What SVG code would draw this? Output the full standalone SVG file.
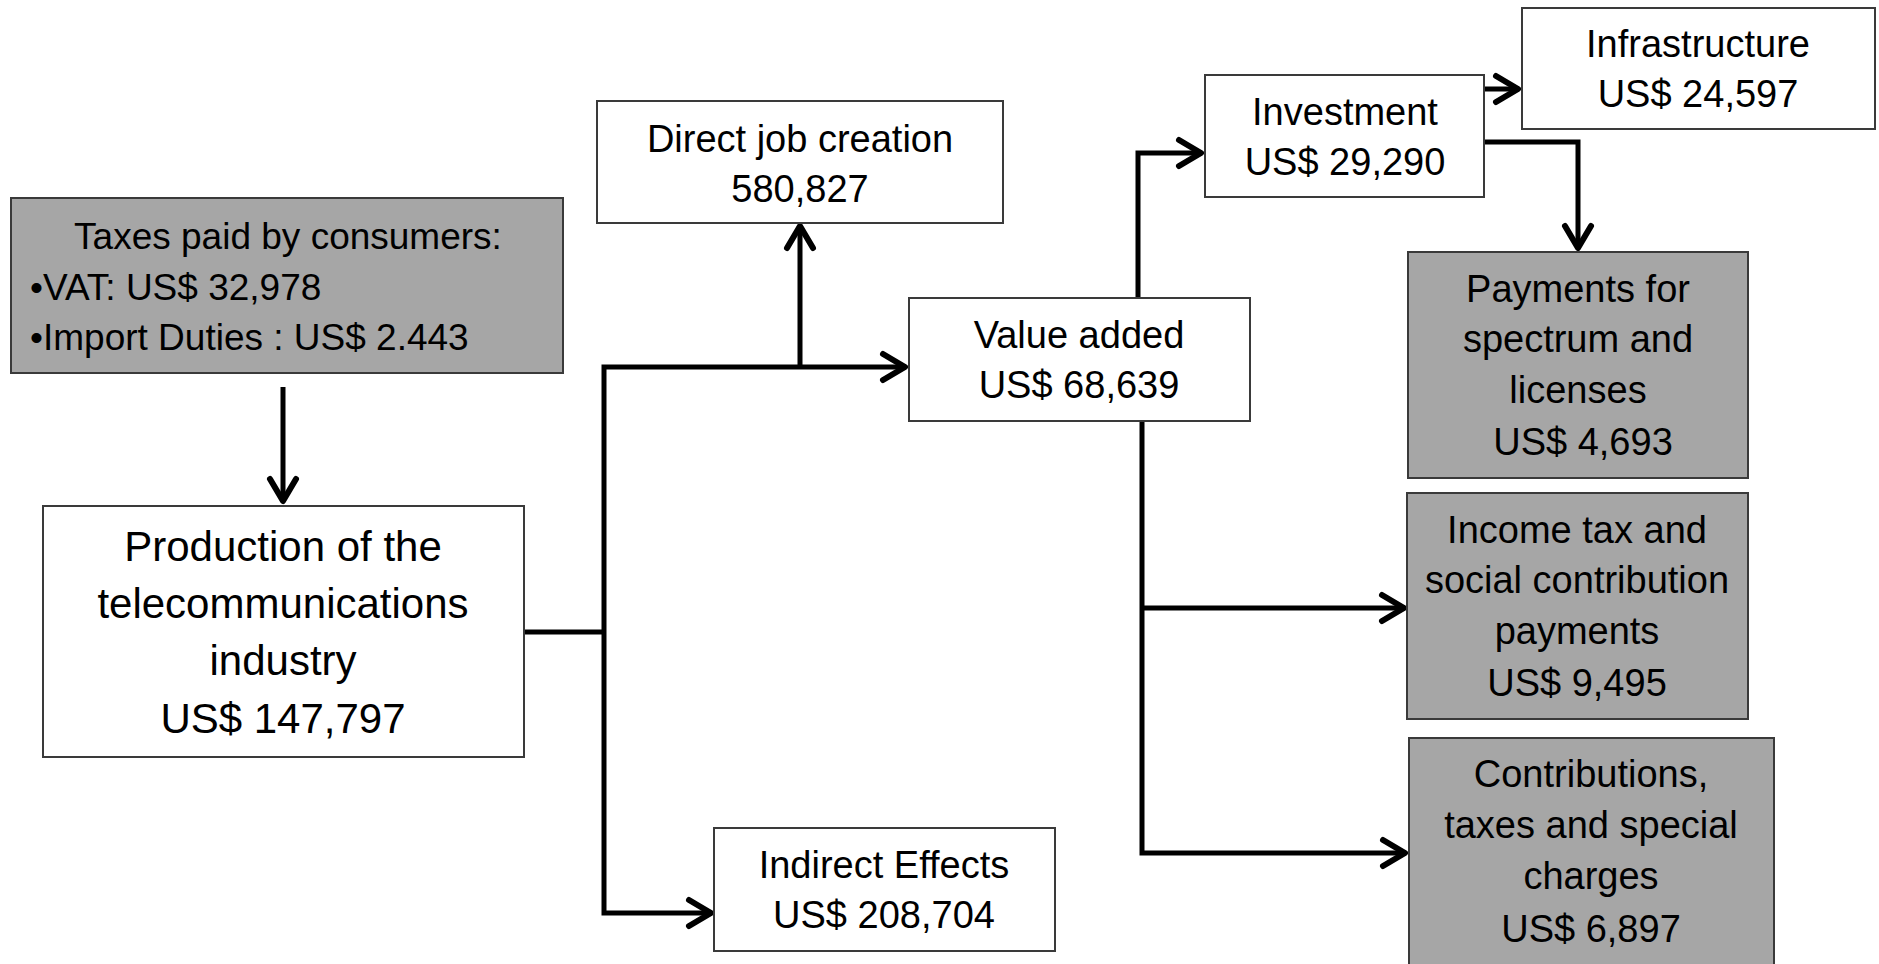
<svg xmlns="http://www.w3.org/2000/svg" width="1879" height="964" viewBox="0 0 1879 964">
  <defs>
    <style>
      .box { stroke: #3a3a3a; stroke-width: 2; }
      .w { fill: #ffffff; }
      .g { fill: #a6a6a6; }
      text { font-family: "Liberation Sans", Arial, sans-serif; fill: #000; font-size: 38px; }
      .c { text-anchor: middle; }
      .big { font-size: 42px; }
      .tax { font-size: 37px; }
      .conn { fill: none; stroke: #000; stroke-width: 5; stroke-linejoin: miter; }
      .arr { marker-end: url(#arrow); }
    </style>
    <marker id="arrow" markerUnits="userSpaceOnUse" viewBox="-30 -20 36 40" refX="0" refY="0" markerWidth="36" markerHeight="40" orient="auto-start-reverse">
      <path d="M-22,-13 L0,0 L-22,13" fill="none" stroke="#000" stroke-width="6" stroke-linecap="round" stroke-linejoin="round"/>
    </marker>
  </defs>
  <rect width="1879" height="964" fill="#ffffff"/>

  <g id="connectors">
    <path class="conn arr" d="M283,387 V501"/>
    <path class="conn" d="M524,632 H604"/>
    <path class="conn" d="M905,367 H604 V913 H711" marker-start="url(#arrow)" marker-end="url(#arrow)"/>
    <path class="conn arr" d="M800,367 V226"/>
    <path class="conn arr" d="M1138,298 V153 H1201"/>
    <path class="conn arr" d="M1142,421 V853 H1405"/>
    <path class="conn arr" d="M1142,608 H1404"/>
    <path class="conn arr" d="M1484,89 H1518"/>
    <path class="conn arr" d="M1484,142 H1578 V248"/>
  </g>

  <g id="taxes">
    <rect class="box g" x="11" y="198" width="552" height="175"/>
    <text class="tax c" x="288" y="249">Taxes paid by consumers:</text>
    <text class="tax" x="30" y="300">•VAT: US$ 32,978</text>
    <text class="tax" x="30" y="350">•Import Duties : US$ 2.443</text>
  </g>

  <g id="production">
    <rect class="box w" x="43" y="506" width="481" height="251"/>
    <text class="big c" x="283" y="561">Production of the</text>
    <text class="big c" x="283" y="618">telecommunications</text>
    <text class="big c" x="283" y="675">industry</text>
    <text class="big c" x="283" y="733">US$ 147,797</text>
  </g>

  <g id="direct-jobs">
    <rect class="box w" x="597" y="101" width="406" height="122"/>
    <text class="c" x="800" y="152">Direct job creation</text>
    <text class="c" x="800" y="202">580,827</text>
  </g>

  <g id="value-added">
    <rect class="box w" x="909" y="298" width="341" height="123"/>
    <text class="c" x="1079" y="348">Value added</text>
    <text class="c" x="1079" y="398">US$ 68,639</text>
  </g>

  <g id="investment">
    <rect class="box w" x="1205" y="75" width="279" height="122"/>
    <text class="c" x="1345" y="125">Investment</text>
    <text class="c" x="1345" y="175">US$ 29,290</text>
  </g>

  <g id="infrastructure">
    <rect class="box w" x="1522" y="8" width="353" height="121"/>
    <text class="c" x="1698" y="57">Infrastructure</text>
    <text class="c" x="1698" y="107">US$ 24,597</text>
  </g>

  <g id="payments">
    <rect class="box g" x="1408" y="252" width="340" height="226"/>
    <text class="c" x="1578" y="302">Payments for</text>
    <text class="c" x="1578" y="352">spectrum and</text>
    <text class="c" x="1578" y="403">licenses</text>
    <text class="c" x="1583" y="455">US$ 4,693</text>
  </g>

  <g id="income-tax">
    <rect class="box g" x="1407" y="493" width="341" height="226"/>
    <text class="c" x="1577" y="543">Income tax and</text>
    <text class="c" x="1577" y="593">social contribution</text>
    <text class="c" x="1577" y="644">payments</text>
    <text class="c" x="1577" y="696">US$ 9,495</text>
  </g>

  <g id="contributions">
    <rect class="box g" x="1409" y="738" width="365" height="232"/>
    <text class="c" x="1591" y="787">Contributions,</text>
    <text class="c" x="1591" y="838">taxes and special</text>
    <text class="c" x="1591" y="889">charges</text>
    <text class="c" x="1591" y="942">US$ 6,897</text>
  </g>

  <g id="indirect">
    <rect class="box w" x="714" y="828" width="341" height="123"/>
    <text class="c" x="884" y="878">Indirect Effects</text>
    <text class="c" x="884" y="928">US$ 208,704</text>
  </g>
</svg>
